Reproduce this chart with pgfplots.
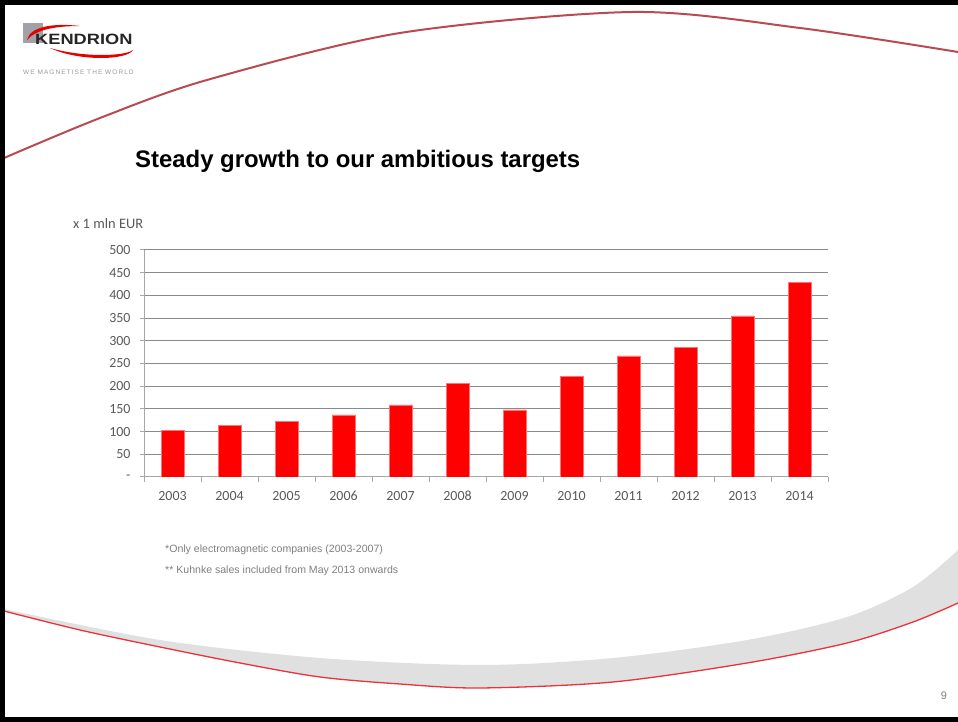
\documentclass[border=0pt]{standalone}
\usepackage{pgfplots}
\pgfplotsset{compat=1.18}
\usepackage{fontspec}
\setmainfont{Liberation Sans}
\newfontfamily\calibri{Carlito}
\definecolor{swoosh}{HTML}{B84A52}
\definecolor{lowred}{HTML}{E8333A}
\definecolor{band}{HTML}{E0E0E0}
\definecolor{tick}{HTML}{595959}
\definecolor{grid}{HTML}{8A8A8A}
\definecolor{note}{HTML}{7F7F7F}

\pgfplotstableread{
x year sales
0 2003 103
1 2004 113
2 2005 122
3 2006 137
4 2007 159
5 2008 207
6 2009 148
7 2010 222
8 2011 267
9 2012 285
10 2013 355
11 2014 428
}\salestable

\begin{document}
\begin{tikzpicture}[x=1bp,y=1bp]
\path[use as bounding box] (0,0) rectangle (958,722);

% slide decoration
\draw[swoosh, line width=2bp] plot[smooth] coordinates {(4,564) (100,604) (207,642) (400,689) (633,710) (800,694) (958,670)};
\fill[band] plot[smooth] coordinates {(4,113) (160,82) (320,64) (480,57) (613,64) (747,82) (847,105) (913,135) (958,172)}
  -- (958,119) -- plot[smooth] coordinates {(958,119) (913,100) (847,79) (747,59) (613,40) (480,34) (400,38) (320,45) (240,59) (160,75) (80,92) (4,111)} -- cycle;
\draw[lowred, line width=1.3bp] plot[smooth] coordinates {(4,111) (80,92) (160,75) (240,59) (320,45) (400,38) (480,34) (613,40) (747,59) (847,79) (913,100) (958,119)};

% logo
\fill[black!35!blue!5!gray!70] (23,679) rectangle (43,699);
\fill[red!90!black] (27,682) .. controls (30,696) and (55,699) .. (80,696) .. controls (58,696) and (36,693) .. cycle;
\fill[red!90!black] (50,674) .. controls (80,660) and (128,662) .. (133,672) .. controls (126,666) and (85,664) .. cycle;
\node[anchor=west, inner sep=0, font=\bfseries\fontsize{15}{15}\selectfont, text=black!85, xscale=1.22] at (35,683) {KENDRION};
\node[anchor=west, inner sep=0, font=\fontsize{6.5}{7}\selectfont, text=gray!80] at (23,650) {W\,E\, M\,A\,G\,N\,E\,T\,I\,S\,E\, T\,H\,E\, W\,O\,R\,L\,D};

% title and notes
\node[anchor=west, inner sep=0, font=\bfseries\fontsize{24}{24}\selectfont] at (135,561) {Steady growth to our ambitious targets};
\node[anchor=west, inner sep=0, font=\calibri\fontsize{14.5}{14.5}\selectfont, text=tick] at (73,498) {x 1 mln EUR};
\node[anchor=west, inner sep=0, font=\fontsize{10.6}{10.6}\selectfont, text=note] at (165,172) {*Only electromagnetic companies (2003-2007)};
\node[anchor=west, inner sep=0, font=\fontsize{10.6}{10.6}\selectfont, text=note] at (165,151) {** Kuhnke sales included from May 2013 onwards};
\node[inner sep=0, font=\fontsize{11}{11}\selectfont, text=note] at (944,26) {9};

% frame
\draw[line width=5bp] (2.5,722) -- (2.5,2.5) -- (958,2.5);
\draw[line width=5bp] (0,719.5) -- (958,719.5);

\begin{axis}[
  at={(144bp,245bp)}, anchor=south west,
  scale only axis, width=684bp, height=227bp,
  xmin=-0.5, xmax=11.5, ymin=0, ymax=500,
  axis x line*=bottom, axis y line*=left,
  axis line style={draw=gray!70, line width=1bp, -},
  xtick={0,...,11},
  xticklabels={2003,2004,2005,2006,2007,2008,2009,2010,2011,2012,2013,2014},
  minor xtick={-0.5,0.5,...,11.5},
  major x tick style={draw=none},
  minor x tick style={draw=gray!70, line width=1bp},
  minor tick length=5bp,
  ytick={0,50,...,500},
  yticklabels={-,50,100,150,200,250,300,350,400,450,500},
  y tick style={draw=gray!70, line width=1bp},
  major tick length=4bp,
  tick align=outside,
  ymajorgrids, grid style={draw=grid, line width=1bp},
  tick label style={font=\calibri\fontsize{14}{14}\selectfont, text=tick},
  xticklabel style={anchor=north, text height=9bp, text depth=1bp, yshift=-7bp},
  yticklabel style={xshift=-6bp},
]
\addplot[ybar, bar width=23bp, fill=red, draw=red!55, line width=0.5bp] table[x=x, y=sales] {\salestable};
\end{axis}
\end{tikzpicture}
\end{document}
